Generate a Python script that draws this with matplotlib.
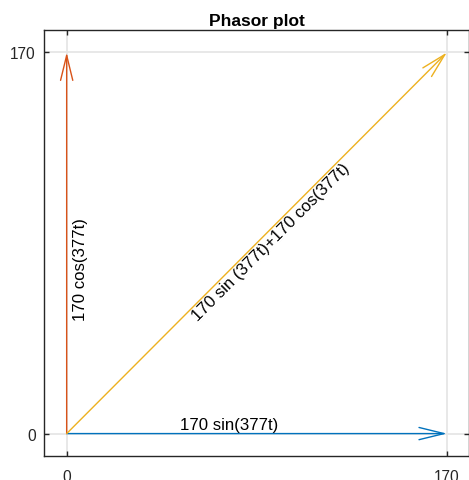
import matplotlib
matplotlib.use("Agg")
import matplotlib.pyplot as plt
from matplotlib.transforms import ScaledTranslation

plt.rcParams['font.family'] = ['Liberation Sans', 'DejaVu Sans']

# Phasor components (amplitude 170)
origin = (0, 0)
sin_phasor = (170, 0)
cos_phasor = (0, 170)
sum_phasor = (sin_phasor[0] + cos_phasor[0], sin_phasor[1] + cos_phasor[1])

labels = ['170 sin(377t)', '170 cos(377t)', '170 sin (377t)+170 cos(377t)']
colors = ['#0072BD', '#D95319', '#EDB120']
tick_values = [0, 170]
tick_labels = ['0', '170']

fig = plt.figure(figsize=(4.69, 4.81), dpi=100)
ax = fig.add_axes([44.3 / 469, (481 - 457) / 481, 425 / 469, 426 / 481])

ax.set_xlim(-10, 180)
ax.set_ylim(-10, 180)

# Grid and frame
ax.grid(True, color='#e6e6e6', linewidth=1.3, zorder=0)
ax.set_axisbelow(True)
for sp in ax.spines.values():
    sp.set_color('#262626')
    sp.set_linewidth(1.0)

ax.set_xticks(tick_values)
ax.set_xticklabels(tick_labels)
ax.set_yticks(tick_values)
ax.set_yticklabels(tick_labels)
ax.tick_params(axis='both', direction='in', length=3.3, width=1.0,
               color='#262626', labelcolor='#262626', labelsize=11.2,
               top=True, right=True)
ax.tick_params(axis='x', pad=9.5)
ax.tick_params(axis='y', pad=6)


def draw_phasor(tip, color):
    ax.annotate('', xy=tip, xytext=origin,
                arrowprops=dict(arrowstyle='->,head_length=0.9,head_width=0.22',
                                mutation_scale=20, color=color, lw=1.0,
                                shrinkA=0, shrinkB=0),
                zorder=3)


draw_phasor(sin_phasor, colors[0])
draw_phasor(cos_phasor, colors[1])
draw_phasor(sum_phasor, colors[2])


def shifted(dx_pt, dy_pt):
    return ax.transData + ScaledTranslation(dx_pt / 72, dy_pt / 72, fig.dpi_scale_trans)


ax.text(50, 0, labels[0], fontsize=12.1, color='black',
        ha='left', va='bottom', transform=shifted(1.0, 0.8))
ax.text(0, 50, labels[1], fontsize=12.1, color='black', rotation=90,
        rotation_mode='anchor', ha='left', va='top', transform=shifted(4.6, 1.2))
ax.text(54.5, 54.5, labels[2], fontsize=12.1, color='black', rotation=45,
        rotation_mode='anchor', ha='left', va='top', transform=shifted(0.6, -0.6))

ax.set_title('Phasor plot', fontsize=12.5, fontweight='bold', pad=3.8)

fig.savefig('out.png', dpi=100)
